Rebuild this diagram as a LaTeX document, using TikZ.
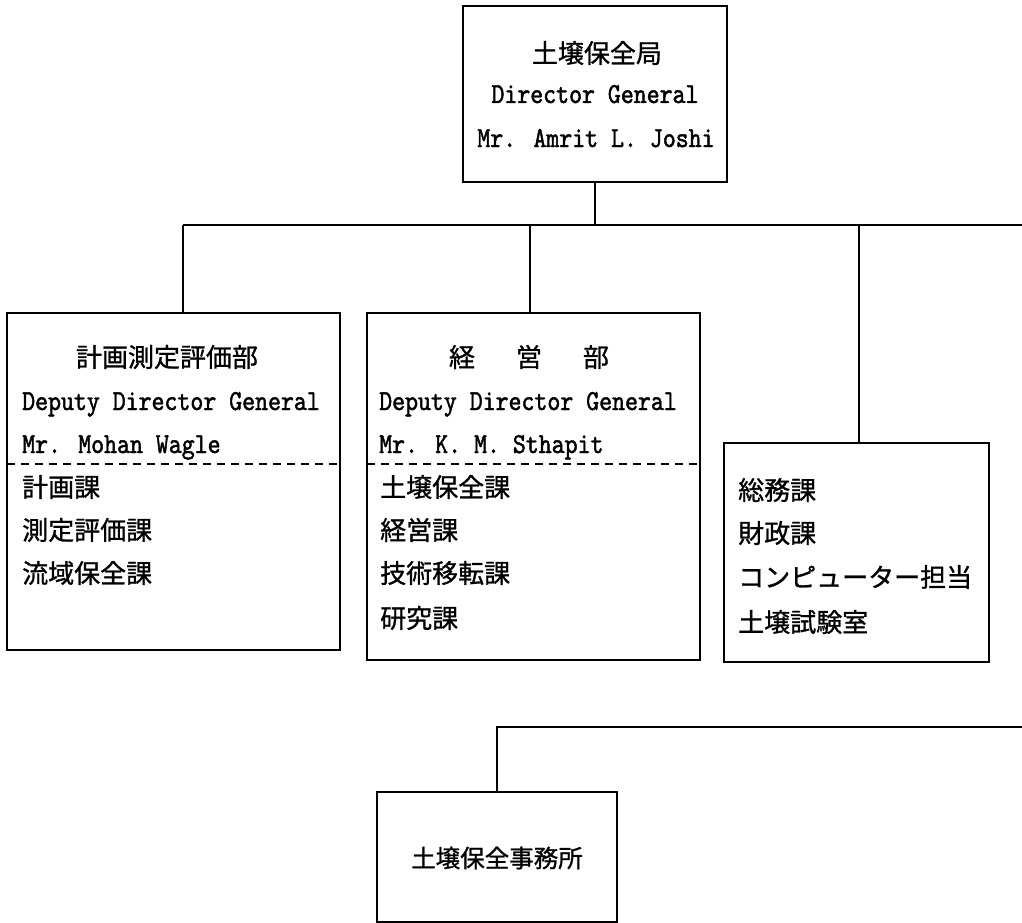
\documentclass[tikz,border=0pt]{standalone}
\usepackage{fontspec}
\setmainfont{Liberation Mono}
\newfontfamily\jp[FakeBold=1]{Noto Sans CJK JP}
\newfontfamily\lat[FakeStretch=0.85,FakeBold=1.5]{lmmono10-regular.otf}
\begin{document}
\begin{tikzpicture}[x=1pt,y=-1pt,
  box/.style={draw, line width=1.5pt, inner sep=0pt, outer sep=0pt},
  jptext/.style={font=\jp\fontsize{26}{26}\selectfont, inner sep=0pt, anchor=west},
  jpcenter/.style={font=\jp\fontsize{26}{26}\selectfont, inner sep=0pt, anchor=center},
  lattext/.style={font=\lat\fontsize{29}{29}\selectfont, inner sep=0pt, anchor=base west},
  latcenter/.style={font=\lat\fontsize{29}{29}\selectfont, inner sep=0pt, anchor=base},
  conn/.style={line width=1.5pt},
  divider/.style={line width=1.3pt, dash pattern=on 8pt off 6pt}]
\useasboundingbox[fill=white] (0,0) rectangle (1022,923);

% boxes
\node[box, minimum width=264pt, minimum height=176pt] (top) at (595,94) {};
\node[box, minimum width=333pt, minimum height=337pt] (left) at (173.5,481.5) {};
\node[box, minimum width=333pt, minimum height=347pt] (mid) at (533.5,486.5) {};
\node[box, minimum width=265pt, minimum height=219pt] (right) at (856.5,552.5) {};
\node[box, minimum width=240pt, minimum height=130pt] (office) at (497,857) {};

% top box text
\node[jpcenter] (t1) at (597,53) {土壌保全局};
\node[latcenter] (t2) at (595,103) {Director General};
\node[latcenter] (t3) at (596,147) {Mr. Amrit L. Joshi};

% left box text
\node[jpcenter] (l1) at (167,357) {計画測定評価部};
\node[lattext] (l2) at (22,410) {Deputy Director General};
\node[lattext] (l3) at (22,453) {Mr. Mohan Wagle};
\node[jptext] (l4) at (22,487) {計画課};
\node[jptext] (l5) at (22,530) {測定評価課};
\node[jptext] (l6) at (22,573) {流域保全課};

% middle box text
\node[jpcenter] (m1) at (529,357) {経\hspace{41pt}営\hspace{41pt}部};
\node[lattext] (m2) at (379,410) {Deputy Director General};
\node[lattext] (m3) at (379,453) {Mr. K. M. Sthapit};
\node[jptext] (m4) at (380,487) {土壌保全課};
\node[jptext] (m5) at (380,530) {経営課};
\node[jptext] (m6) at (380,573) {技術移転課};
\node[jptext] (m7) at (380,618) {研究課};

% right box text
\node[jptext] (r1) at (738,490) {総務課};
\node[jptext] (r2) at (738,533) {財政課};
\node[jptext] (r3) at (738,577) {コンピューター担当};
\node[jptext] (r4) at (738,622) {土壌試験室};

% bottom box text
\node[font=\jp\fontsize{24.5}{24.5}\selectfont, inner sep=0pt] (o1) at (497,858) {土壌保全事務所};

% dashed dividers
\coordinate (dl) at (0,464);
\draw[divider] (left.west |- dl) -- (left.east |- dl);
\draw[divider] (mid.west |- dl) -- (mid.east |- dl);

% connectors
\coordinate (busL) at (183,225);
\coordinate (busM) at (530,225);
\coordinate (busN) at (859,225);
\coordinate (busR) at (1022,225);
\coordinate (bus2R) at (1022,727);
\draw[conn] (busL) -- (busR);
\draw[conn] (top.south) -- (top.south |- busL);
\draw[conn] (busL) -- (busL |- left.north);
\draw[conn] (busM) -- (busM |- mid.north);
\draw[conn] (busN) -- (busN |- right.north);
\draw[conn] (bus2R) -| (office.north);
\end{tikzpicture}
\end{document}
